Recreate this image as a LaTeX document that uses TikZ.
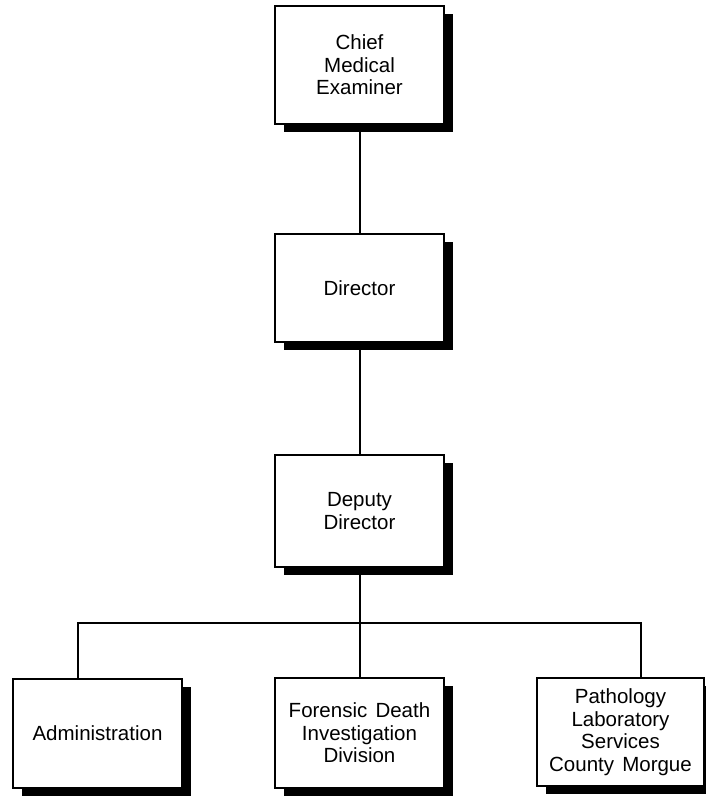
\documentclass[tikz,border=0pt]{standalone}
\usepackage{fontspec}
\setmainfont{Liberation Sans}
\usetikzlibrary{shadows}
\begin{document}
\begin{tikzpicture}[x=1pt,y=-1pt,
  orgbox/.style={draw=black, line width=1.8pt, fill=white, rectangle,
    inner sep=0pt, align=center, minimum width=169pt,
    font=\fontsize{20.5}{22.5}\selectfont,
    drop shadow={shadow xshift=9pt, shadow yshift=-8pt, fill=black, opacity=1}},
  link/.style={line width=2.2pt, draw=black}]
\useasboundingbox (0,0) rectangle (705,796);
\fill[white] (0,0) rectangle (705,796);

% chain of command
\node[orgbox, minimum height=118pt] (cme) at (359.5,65) {Chief\\Medical\\Examiner};
\node[orgbox, minimum height=108pt] (dir) at (359.5,288) {Director};
\node[orgbox, minimum height=112pt] (dep) at (359.5,511) {Deputy\\Director};

% divisions
\node[orgbox, minimum height=109pt] (adm) at (97.5,733.5) {Administration};
\node[orgbox, minimum height=110pt] (fdi) at (359.5,733) {Forensic\hspace{0.4em}Death\\Investigation\\Division};
\node[orgbox, minimum height=108pt, minimum width=167pt] (pls) at (620.5,732) {Pathology\\Laboratory\\Services\\County\hspace{0.4em}Morgue};

% connectors
\coordinate (busL) at (78,623);
\coordinate (busR) at (641,623);
\coordinate (busM) at (360,623);
\draw[link] (cme.south -| busM) -- (dir.north -| busM);
\draw[link] (dir.south -| busM) -- (dep.north -| busM);
\draw[link] (dep.south -| busM) -- (busM);
\draw[link] (busL |- adm.north) -- (busL) -- (busR) -- (busR |- pls.north);
\draw[link] (busM) -- (fdi.north -| busM);
\end{tikzpicture}
\end{document}
